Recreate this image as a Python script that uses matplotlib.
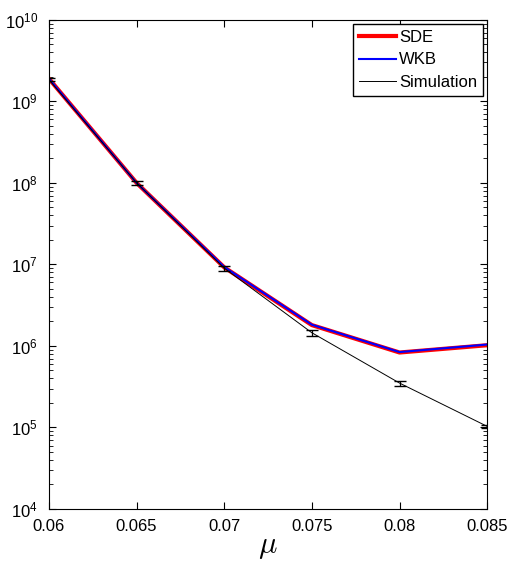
import numpy as np
import matplotlib.pyplot as plt

plt.rcParams['font.family'] = ['Liberation Sans', 'DejaVu Sans']
plt.rcParams['mathtext.fontset'] = 'cm'

mu = [0.06, 0.065, 0.07, 0.075, 0.08, 0.085]
sde = [1.9e9, 1.0e8, 9.2e6, 1.8e6, 8.3e5, 1.02e6]
wkb = [1.9e9, 1.0e8, 9.3e6, 1.82e6, 8.4e5, 1.04e6]
sim = [1.85e9, 1.0e8, 9.0e6, 1.45e6, 3.5e5, 1.03e5]
sim_err = [0.08e9, 0.07e8, 0.6e6, 0.12e6, 0.25e5, 0.05e5]

fig = plt.figure(figsize=(5.15, 5.68), dpi=100)
ax = fig.add_axes([0.095, 0.104, 0.851, 0.861])

ax.plot(mu, sde, color='red', lw=3, label='SDE')
ax.plot(mu, wkb, color='blue', lw=1.5, label='WKB')
ax.errorbar(mu, sim, yerr=sim_err, color='black', lw=0.7, elinewidth=0.9,
            capsize=4, label='Simulation')

ax.set_yscale('log')
ax.set_xlim(0.06, 0.085)
ax.set_ylim(1e4, 1e10)
ax.set_xticks(mu)
ax.set_xticklabels(['0.06', '0.065', '0.07', '0.075', '0.08', '0.085'])
ax.tick_params(which='both', direction='in', top=True, right=True, labelsize=12)
ax.tick_params(which='major', length=5)
ax.tick_params(which='minor', length=3)
ax.tick_params(axis='x', pad=7)
ax.tick_params(axis='y', pad=8)
ax.set_xlabel(r'$\mu$', fontsize=22, labelpad=-2)

handles, labels = ax.get_legend_handles_labels()
handles[2] = plt.Line2D([], [], color='black', lw=0.7)
ax.legend(handles, labels, loc='upper right', fontsize=12, fancybox=False,
          edgecolor='black', framealpha=1, handlelength=2.2, borderpad=0.35,
          labelspacing=0.45, handletextpad=0.2, borderaxespad=0.25)

fig.savefig('out.png', dpi=100)
